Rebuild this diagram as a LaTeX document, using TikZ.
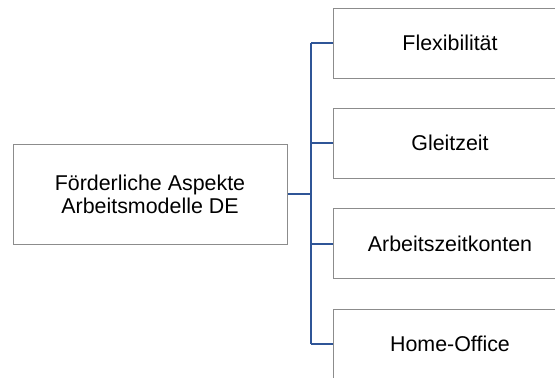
\documentclass[tikz,border=0pt]{standalone}
\usepackage{fontspec}
\setmainfont{Liberation Sans}
\begin{document}
\begin{tikzpicture}[x=1pt,y=-1pt,
  box/.style={draw=black!45,line width=1pt,fill=white,inner sep=0pt,
    font=\fontsize{21.4}{23}\selectfont,align=center},
  rootbox/.style={box,minimum width=274pt,minimum height=100pt},
  leafbox/.style={box,minimum width=234pt,minimum height=70pt},
  conn/.style={draw={rgb,255:red,47;green,85;blue,151},line width=2pt}]
\useasboundingbox (0,0) rectangle (555,378);
\clip (0,0) rectangle (555,378);
% root node and the four branches
\node[rootbox] (root) at (150,194) {Förderliche Aspekte\\Arbeitsmodelle DE};
\node[leafbox] (c1) at (450,43) {Flexibilität};
\node[leafbox] (c2) at (450,143) {Gleitzeit};
\node[leafbox] (c3) at (450,243.5) {Arbeitszeitkonten};
\node[leafbox] (c4) at (450,344) {Home-Office};
% vertical bus
\coordinate (bus) at (311,0);
\draw[conn] (root.east) -- (root.east -| bus);
\draw[conn] (c1.west -| bus) -- (c4.west -| bus);
\foreach \n in {c1,c2,c3,c4}
  \draw[conn] (\n.west -| bus) -- (\n.west);
\end{tikzpicture}
\end{document}
